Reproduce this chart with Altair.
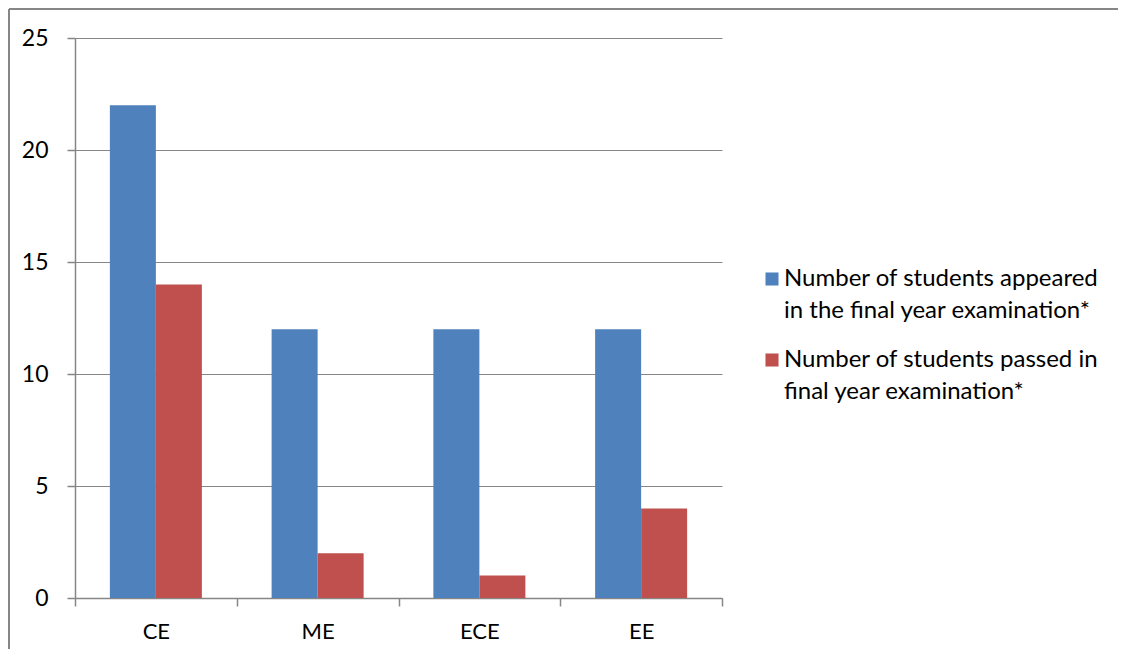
import altair as alt
import pandas as pd

categories = ["CE", "ME", "ECE", "EE"]
series = [
    "Number of students appeared|in the final year examination*",
    "Number of students passed in|final year examination*",
]
appeared = [22, 12, 12, 12]
passed = [14, 2, 1, 4]
colors = ["#4F81BD", "#C0504D"]
y_ticks = [0, 5, 10, 15, 20, 25]

rows = []
for i, c in enumerate(categories):
    rows.append({"cat": c, "series": series[0], "value": appeared[i]})
    rows.append({"cat": c, "series": series[1], "value": passed[i]})
df = pd.DataFrame(rows)

FONT = "Lato"
GRAY = "#868686"
W, H = 647, 560

bars = alt.Chart(df).mark_bar().encode(
    x=alt.X("cat:N", sort=categories,
            scale=alt.Scale(paddingInner=0, paddingOuter=0),
            axis=alt.Axis(title=None, labelAngle=0, tickBand="extent",
                          tickSize=8, tickColor=GRAY, tickWidth=1.5,
                          domainColor=GRAY, domainWidth=1.5,
                          labelFont=FONT, labelFontSize=22, labelColor="#000",
                          labelPadding=15, grid=False)),
    xOffset=alt.XOffset("series:N", sort=series,
                        scale=alt.Scale(paddingOuter=0.758, paddingInner=0)),
    y=alt.Y("value:Q", scale=alt.Scale(domain=[0, 25], nice=False),
            axis=alt.Axis(title=None, values=y_ticks, tickSize=8, tickColor=GRAY,
                          tickWidth=1.5, domainColor=GRAY, domainWidth=1.5,
                          gridColor=GRAY, gridWidth=1.2,
                          labelFont=FONT, labelFontSize=23, labelColor="#000",
                          labelPadding=19)),
    color=alt.Color("series:N", sort=series,
                    scale=alt.Scale(domain=series, range=colors),
                    legend=alt.Legend(title=None, orient="none",
                                      legendX=685, legendY=229,
                                      symbolType="square", symbolSize=170,
                                      symbolStrokeWidth=0, symbolOpacity=1,
                                      labelFont=FONT, labelFontSize=24,
                                      labelColor="#000", labelLimit=400,
                                      labelOffset=0, rowPadding=25,
                                      labelExpr="split(datum.label, '|')")),
)

top_line = alt.Chart(df).mark_rule(color=GRAY, strokeWidth=2).encode(
    x=alt.value(-66), x2=alt.value(1060), y=alt.value(-29))
left_line = alt.Chart(df).mark_rule(color=GRAY, strokeWidth=2).encode(
    x=alt.value(-66), y=alt.value(-29), y2=alt.value(630))

chart = alt.layer(bars, top_line, left_line).properties(
    width=W, height=H,
    autosize=alt.AutoSizeParams(type="none"),
    padding={"left": 67, "top": 30, "right": 396, "bottom": 51},
).configure(
    style={"guide-label": {"lineHeight": 32}}
).configure_view(stroke=None)

chart.save("out.html", embed_options={"renderer": "svg", "actions": False})
